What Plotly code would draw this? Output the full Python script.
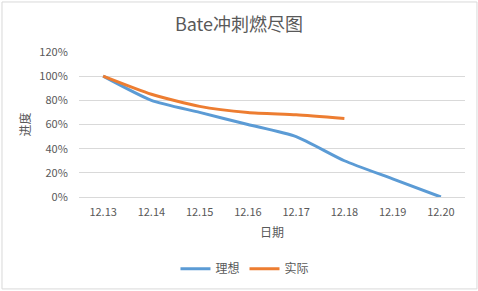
import plotly.graph_objects as go

dates = ["12.13", "12.14", "12.15", "12.16", "12.17", "12.18", "12.19", "12.20"]
ideal = [1.00, 0.80, 0.70, 0.60, 0.50, 0.30, 0.15, 0.00]
actual_dates = ["12.13", "12.14", "12.15", "12.16", "12.17", "12.18"]
actual = [1.00, 0.85, 0.75, 0.70, 0.68, 0.65]
yticks = [0, 0.2, 0.4, 0.6, 0.8, 1.0, 1.2]

FONT = "Noto Sans CJK SC, Noto Sans, sans-serif"
GREY = "#595959"

fig = go.Figure()
fig.add_trace(go.Scatter(x=dates, y=ideal, name="理想", mode="lines",
                         line=dict(color="#5B9BD5", width=3, shape="spline", smoothing=0.6)))
fig.add_trace(go.Scatter(x=actual_dates, y=actual, name="实际", mode="lines",
                         line=dict(color="#ED7D31", width=3, shape="spline", smoothing=0.6)))

fig.update_layout(
    width=478, height=291,
    margin=dict(l=79, r=13, t=52, b=94, autoexpand=False),
    paper_bgcolor="white", plot_bgcolor="white",
    font=dict(family=FONT, size=11, color=GREY),
    title=dict(text="Bate冲刺燃尽图", x=0.5, xanchor="center", y=0.915, yanchor="middle",
               font=dict(family=FONT, size=18, color=GREY)),
    showlegend=True,
    legend=dict(orientation="h", x=0.43, xanchor="center", y=-0.495, yanchor="middle",
                font=dict(family=FONT, size=12, color=GREY), itemwidth=30,
                bgcolor="rgba(0,0,0,0)"),
    xaxis=dict(type="category", categoryorder="array", categoryarray=dates,
               range=[-0.5, 7.5], showgrid=False, showline=True, linecolor="#D9D9D9",
               linewidth=1, ticks="outside", ticklen=5, tickcolor="rgba(0,0,0,0)",
               tickfont=dict(size=11, color=GREY), automargin=False,
               title=dict(text="日期", standoff=10, font=dict(size=12, color=GREY)),
               zeroline=False),
    yaxis=dict(range=[0, 1.2], tickvals=yticks, tickformat=".0%", showgrid=True,
               gridcolor="#D9D9D9", gridwidth=1, zeroline=False, showline=False,
               ticks="outside", ticklen=8, tickcolor="rgba(0,0,0,0)",
               tickfont=dict(size=11, color=GREY), automargin=False,
               title=dict(text="进度", standoff=6, font=dict(size=12, color=GREY))),
)

# faint chart frame like the spreadsheet border
fig.add_shape(type="rect", xref="paper", yref="paper", x0=-0.1995, x1=1.031, y0=-0.634, y1=1.345,
              line=dict(color="#D9D9D9", width=1), fillcolor="rgba(0,0,0,0)", layer="below")

fig.write_html("out.html")
